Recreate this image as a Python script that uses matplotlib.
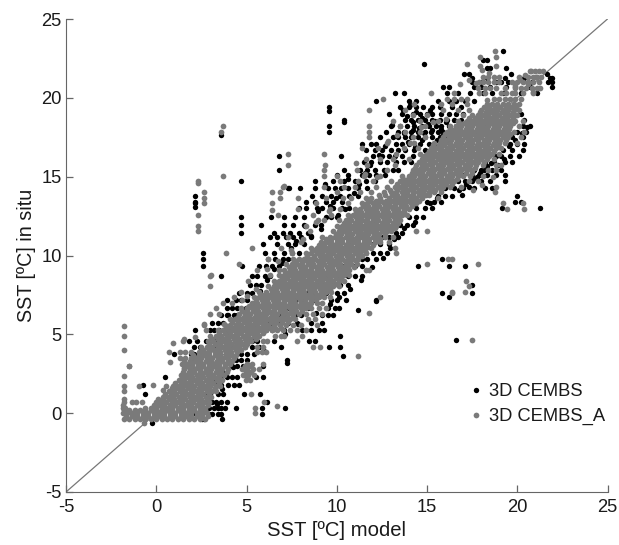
import matplotlib
matplotlib.use("Agg")
import matplotlib.pyplot as plt

plt.rcParams['font.family'] = ['Liberation Sans', 'DejaVu Sans']
plt.rcParams['axes.unicode_minus'] = False

# values, in situ SST -> model SST at that level
# grey series, dense band
cembs_a_rows = {
    -0.35: [-1.8, -1.5, -1.2, -0.9, -0.6, -0.3, 0.0, 0.3, 0.6, 0.9, 1.2, 1.5, 1.8, 2.1, 2.4, 2.7],
    0.0: [-1.85, -1.6, -1.35, -1.05, -0.75, -0.45, -0.15, 0.15, 0.45, 0.75, 1.05, 1.35, 1.65, 1.95, 2.25, 2.55, 2.8],
    0.35: [-1.85, -1.75, -0.6, -0.3, 0.0, 0.3, 0.6, 0.9, 1.2, 1.5, 1.8, 2.1, 2.4, 2.7],
    0.7: [-1.8, -1.35, -1.1, -0.8, 0.0, 0.25, 0.55, 0.85, 1.15, 1.45, 1.75, 2.05, 2.35, 2.65, 2.95],
    1.05: [0.35, 0.65, 0.95, 1.25, 1.55, 1.85, 2.15, 2.45, 2.75, 3.05],
    1.4: [0.7, 1.0, 1.3, 1.6, 1.9, 2.2, 2.5, 2.8, 3.1, 3.3],
    1.75: [0.55, 0.95, 1.2, 1.5, 1.8, 2.1, 2.4, 2.7, 3.0, 3.3, 3.55],
    2.1: [1.25, 1.55, 1.85, 2.15, 2.45, 2.75, 3.05, 3.35, 3.65, 4.95, 5.2],
    2.45: [1.35, 1.65, 1.95, 2.25, 2.55, 2.85, 3.15, 3.45, 3.75, 4.8, 5.1, 5.4],
    2.8: [1.55, 1.85, 2.15, 2.45, 2.75, 3.05, 3.35, 3.65, 3.95, 4.75, 5.05, 5.35, 5.7],
    3.15: [1.4, 1.7, 2.0, 2.3, 2.6, 2.9, 3.2, 3.5, 3.8, 4.1, 5.0, 5.3, 5.9],
    3.5: [1.3, 1.6, 1.9, 2.2, 2.5, 2.8, 3.1, 3.4, 3.7, 4.0, 4.3],
    3.85: [0.7, 1.3, 1.6, 1.9, 2.35, 2.65, 2.95, 3.25, 3.55, 3.85, 4.15, 4.45, 5.6, 5.85, 6.1],
    4.2: [2.5, 2.8, 3.1, 3.4, 3.7, 4.0, 4.3, 4.6, 4.9, 5.6, 5.9, 8.7],
    4.55: [1.5, 2.85, 3.15, 3.45, 3.75, 4.05, 4.35, 4.65, 4.95, 5.25, 5.9, 6.15, 7.8],
    4.9: [3.0, 3.3, 3.6, 3.9, 4.2, 4.5, 4.8, 5.1, 5.4, 5.7, 6.6, 6.9, 7.1, 8.1],
    5.25: [2.75, 3.4, 3.7, 4.0, 4.3, 4.6, 4.9, 5.2, 5.5, 5.8, 6.1, 6.4, 6.7, 7.0, 7.4, 7.8, 8.3],
    5.6: [2.65, 3.8, 4.1, 4.4, 4.7, 5.0, 5.3, 5.6, 5.9, 6.2, 6.5, 6.85, 7.2, 7.6, 8.0, 8.9],
    5.95: [4.1, 4.4, 4.7, 5.0, 5.3, 5.6, 5.9, 6.2, 6.5, 6.8, 7.1, 7.4, 7.7, 8.4, 8.8],
    6.3: [3.0, 3.5, 4.6, 4.9, 5.2, 5.5, 5.8, 6.1, 6.4, 6.7, 7.0, 7.3, 7.6, 7.9, 8.3, 8.7, 9.2],
    6.65: [3.3, 4.7, 5.0, 5.3, 5.6, 5.9, 6.2, 6.5, 6.8, 7.1, 7.4, 7.7, 8.0, 8.3, 8.6, 9.0, 9.4],
    7.0: [3.7, 4.2, 5.3, 5.6, 5.9, 6.2, 6.5, 6.8, 7.1, 7.4, 7.7, 8.0, 8.3, 8.6, 8.9, 9.2],
    7.35: [4.3, 5.4, 5.7, 6.0, 6.3, 6.6, 6.9, 7.2, 7.5, 7.8, 8.1, 8.4, 8.7, 9.0, 9.3, 9.6, 12.4],
    7.7: [4.7, 5.7, 6.1, 6.4, 6.7, 7.0, 7.3, 7.6, 7.9, 8.2, 8.5, 8.8, 9.1, 9.4, 9.7, 16.4, 17.12],
    8.05: [3.0, 6.2, 6.5, 6.8, 7.1, 7.4, 7.7, 8.0, 8.3, 8.6, 8.9, 9.2, 9.5, 9.8, 10.1, 17.35],
    8.4: [5.1, 6.5, 6.8, 7.1, 7.4, 7.7, 8.0, 8.3, 8.6, 8.9, 9.2, 9.5, 9.8, 10.1, 10.4, 17.17],
    8.75: [3.05, 6.3, 6.8, 7.1, 7.4, 7.7, 8.0, 8.3, 8.6, 8.9, 9.2, 9.5, 9.8, 10.1, 10.4, 10.7],
    9.1: [5.6, 6.8, 7.1, 7.4, 7.7, 8.0, 8.3, 8.6, 8.9, 9.2, 9.5, 9.8, 10.1, 10.4, 10.7, 11.6, 11.76],
    9.45: [4.58, 7.2, 7.5, 7.8, 8.1, 8.4, 8.7, 9.0, 9.3, 9.6, 9.9, 10.2, 10.5, 10.8, 11.1, 15.0, 17.85],
    9.8: [6.2, 7.6, 7.9, 8.2, 8.5, 8.8, 9.1, 9.4, 9.7, 10.0, 10.3, 10.6, 10.9, 11.2, 16.17, 16.4],
    10.15: [3.85, 7.5, 8.3, 8.6, 8.9, 9.2, 9.5, 9.8, 10.1, 10.4, 10.7, 11.0, 11.3, 11.6, 13.3],
    10.5: [6.9, 8.6, 8.9, 9.2, 9.5, 9.8, 10.1, 10.4, 10.7, 11.0, 11.3, 11.6, 11.9, 13.2],
    10.85: [8.0, 9.1, 9.4, 9.7, 10.0, 10.3, 10.6, 10.9, 11.2, 11.5, 11.8, 12.1, 12.4, 12.9],
    11.2: [7.3, 9.2, 9.6, 9.9, 10.2, 10.5, 10.8, 11.1, 11.4, 11.7, 12.0, 12.3, 12.7, 13.1],
    11.55: [2.3, 8.5, 9.8, 10.1, 10.4, 10.7, 11.0, 11.3, 11.6, 11.9, 12.2, 12.5, 12.8, 13.0, 14.4, 15.0],
    11.9: [2.3, 8.3, 10.0, 10.3, 10.6, 10.9, 11.2, 11.5, 11.8, 12.1, 12.4, 12.7, 13.0, 13.3],
    12.25: [8.98, 9.3, 10.1, 10.5, 10.8, 11.1, 11.4, 11.7, 12.0, 12.3, 12.6, 12.9, 13.2, 13.5],
    12.6: [2.3, 6.74, 8.66, 9.7, 10.6, 10.9, 11.2, 11.5, 11.8, 12.1, 12.4, 12.7, 13.0, 13.3, 13.6, 13.9],
    12.95: [7.88, 9.6, 10.2, 11.0, 11.3, 11.6, 11.9, 12.2, 12.5, 12.8, 13.1, 13.4, 13.7, 14.0, 19.42, 20.4],
    13.3: [2.65, 6.4, 8.84, 10.6, 11.4, 11.7, 12.0, 12.3, 12.6, 12.9, 13.2, 13.5, 13.8, 14.1, 14.4, 19.2, 20.3],
    13.65: [2.65, 6.87, 7.88, 9.4, 10.8, 11.6, 11.9, 12.4, 12.9, 13.2, 13.5, 13.8, 14.1, 14.4, 14.7, 15.6],
    14.0: [2.65, 6.41, 6.87, 10.0, 11.3, 11.9, 12.6, 13.0, 13.3, 13.6, 13.9, 14.2, 14.5, 14.8, 15.1, 15.4, 15.8, 18.75],
    14.35: [7.0, 9.3, 10.4, 11.0, 12.2, 12.8, 13.2, 13.5, 13.8, 14.1, 14.4, 14.7, 15.0, 15.3, 15.6, 15.9, 16.3, 16.9, 18.85],
    14.7: [2.3, 10.2, 11.2, 12.0, 13.0, 13.5, 13.8, 14.1, 14.4, 14.7, 15.0, 15.3, 15.6, 15.9, 16.2, 16.5, 17.3, 17.8],
    15.05: [3.7, 9.3, 10.0, 11.5, 12.4, 13.6, 14.0, 14.3, 14.6, 14.9, 15.2, 15.5, 15.8, 16.1, 16.4, 16.7, 17.0, 17.4, 18.1],
    15.4: [9.28, 11.1, 12.8, 14.2, 14.5, 14.8, 15.1, 15.4, 15.7, 16.0, 16.3, 16.6, 16.9, 17.2, 17.5, 18.4, 18.8],
    15.75: [7.3, 9.35, 11.7, 13.2, 14.4, 14.7, 15.0, 15.3, 15.6, 15.9, 16.2, 16.5, 16.8, 17.1, 17.4, 17.7, 18.1, 18.8, 19.1],
    16.1: [11.6, 12.4, 13.1, 14.0, 14.7, 15.0, 15.3, 15.6, 15.9, 16.2, 16.5, 16.8, 17.1, 17.4, 17.7, 18.0, 18.3, 18.7],
    16.45: [7.3, 9.29, 13.3, 14.6, 15.0, 15.3, 15.6, 15.9, 16.2, 16.5, 16.8, 17.1, 17.4, 17.7, 18.0, 18.3, 18.6, 19.0],
    16.8: [11.4, 12.3, 13.7, 14.5, 15.2, 15.5, 15.8, 16.1, 16.4, 16.7, 17.0, 17.3, 17.6, 17.9, 18.2, 18.5, 18.8, 19.1],
    17.15: [12.8, 14.3, 15.4, 15.7, 16.0, 16.3, 16.6, 16.9, 17.2, 17.5, 17.8, 18.1, 18.4, 18.7, 19.0, 19.3, 20.0],
    17.5: [11.8, 14.2, 14.9, 15.9, 16.2, 16.5, 16.8, 17.1, 17.4, 17.7, 18.0, 18.3, 18.6, 18.9, 19.2, 19.5, 20.2],
    17.85: [3.6, 11.78, 13.8, 14.6, 16.1, 16.4, 16.7, 17.0, 17.3, 17.6, 17.9, 18.2, 18.5, 18.8, 19.1, 19.4, 19.8, 20.4],
    18.2: [3.7, 11.78, 13.5, 14.9, 16.3, 16.6, 16.9, 17.2, 17.5, 17.8, 18.1, 18.4, 18.7, 19.0, 19.3, 19.6, 20.1],
    18.55: [13.1, 14.6, 15.6, 16.7, 17.2, 17.5, 17.8, 18.1, 18.4, 18.7, 19.0, 19.3, 19.6, 19.9, 20.3],
    18.9: [14.2, 15.0, 17.0, 17.5, 17.8, 18.1, 18.4, 18.7, 19.0, 19.3, 19.6, 19.9, 20.0],
    19.25: [11.76, 13.8, 15.9, 16.7, 17.3, 18.0, 18.3, 18.6, 18.9, 19.2, 19.5, 19.8, 20.1],
    19.6: [14.3, 15.8, 16.4, 17.2, 18.3, 18.6, 18.9, 19.2, 19.5, 19.8, 20.1],
    19.95: [12.54, 16.1, 16.5, 16.9, 17.2, 18.7, 19.0, 19.3, 19.6, 19.9, 20.2],
    20.3: [15.2, 16.5, 17.9, 18.2, 19.1, 19.4, 19.7, 19.9, 20.3, 20.9],
    20.65: [17.8, 18.2, 18.5, 18.8, 19.3, 19.9, 20.2, 20.5, 20.8, 21.1],
    21.0: [17.9, 18.1, 18.4, 18.7, 19.0, 19.7, 20.0, 20.3, 20.6, 20.9, 21.2],
    21.35: [18.1, 18.4, 18.7, 19.0, 20.1, 20.6, 20.9, 21.1, 21.3],
    21.7: [20.7, 21.0, 21.2, 21.4],
    22.0: [17.94, 18.83],
    22.6: [17.94, 18.83],
    22.97: [18.77],
    22.14: [17.22],
}

# grey series, the levels in between, core of the band only
cembs_a_mid_rows = {
    -0.18: [-1.7, -1.35, -1.05, -0.75, -0.45, -0.15, 0.15, 0.45, 0.75, 1.05, 1.35, 1.65, 1.95, 2.25, 2.55, 2.85],
    0.18: [-1.8, -1.5, -1.2, -0.9, -0.6, -0.3, 0.0, 0.3, 0.6, 0.9, 1.2, 1.5, 1.8, 2.1, 2.4, 2.7],
    0.52: [-1.85, -0.15, 0.15, 0.45, 0.75, 1.05, 1.35, 1.65, 1.95, 2.25, 2.55, 2.85],
    0.88: [-1.8, 0.1, 0.4, 0.7, 1.0, 1.3, 1.6, 1.9, 2.2, 2.5, 2.8],
    1.22: [0.5, 0.8, 1.1, 1.4, 1.7, 2.0, 2.3, 2.6, 2.9],
    1.58: [0.85, 1.15, 1.45, 1.75, 2.05, 2.35, 2.65, 2.95, 3.25],
    1.92: [1.05, 1.35, 1.65, 1.95, 2.25, 2.55, 2.85, 3.15, 3.45],
    2.28: [1.4, 1.7, 2.0, 2.3, 2.6, 2.9, 3.2, 3.5, 5.0],
    2.62: [1.5, 1.8, 2.1, 2.4, 2.7, 3.0, 3.3, 3.6, 3.9, 4.95, 5.25],
    2.98: [1.7, 2.0, 2.3, 2.6, 2.9, 3.2, 3.5, 3.8, 4.9, 5.2],
    3.32: [1.55, 1.85, 2.15, 2.45, 2.75, 3.05, 3.35, 3.65, 3.95, 4.2],
    3.68: [2.05, 2.35, 2.65, 2.95, 3.25, 3.55, 3.85, 4.15, 4.4],
    4.02: [2.6, 2.9, 3.2, 3.5, 3.8, 4.1, 4.4, 4.7],
    4.38: [2.95, 3.25, 3.55, 3.85, 4.15, 4.45, 4.75, 5.05],
    4.72: [3.1, 3.4, 3.7, 4.0, 4.3, 4.6, 4.9, 5.2, 5.5],
    5.08: [3.5, 3.8, 4.1, 4.4, 4.7, 5.0, 5.3, 5.6, 5.9],
    5.42: [3.9, 4.2, 4.5, 4.8, 5.1, 5.4, 5.7, 6.0, 6.3, 6.6, 6.9],
    5.78: [4.2, 4.55, 4.85, 5.15, 5.45, 5.75, 6.05, 6.35, 6.65, 6.95, 7.3],
    6.12: [4.55, 4.85, 5.15, 5.45, 5.75, 6.05, 6.35, 6.65, 6.95, 7.25, 7.55],
    6.48: [4.75, 5.05, 5.35, 5.65, 5.95, 6.25, 6.55, 6.85, 7.15, 7.45, 7.75, 8.05],
    6.82: [5.15, 5.45, 5.75, 6.05, 6.35, 6.65, 6.95, 7.25, 7.55, 7.85, 8.15, 8.45],
    7.18: [5.55, 5.85, 6.15, 6.45, 6.75, 7.05, 7.35, 7.65, 7.95, 8.25, 8.55, 8.85],
    7.52: [5.85, 6.2, 6.5, 6.8, 7.1, 7.4, 7.7, 8.0, 8.3, 8.6, 8.9, 9.2],
    7.88: [6.35, 6.65, 6.95, 7.25, 7.55, 7.85, 8.15, 8.45, 8.75, 9.05, 9.35, 9.65],
    8.22: [6.65, 6.95, 7.25, 7.55, 7.85, 8.15, 8.45, 8.75, 9.05, 9.35, 9.65, 9.95],
    8.58: [6.95, 7.25, 7.55, 7.85, 8.15, 8.45, 8.75, 9.05, 9.35, 9.65, 9.95, 10.25],
    8.92: [7.25, 7.55, 7.85, 8.15, 8.45, 8.75, 9.05, 9.35, 9.65, 9.95, 10.25, 10.55],
    9.28: [7.35, 7.65, 7.95, 8.25, 8.55, 8.85, 9.15, 9.45, 9.75, 10.05, 10.35, 10.65, 10.95],
    9.62: [7.75, 8.05, 8.35, 8.65, 8.95, 9.25, 9.55, 9.85, 10.15, 10.45, 10.75, 11.05],
    9.98: [8.35, 8.75, 9.05, 9.35, 9.65, 9.95, 10.25, 10.55, 10.85, 11.15, 11.4],
    10.32: [8.75, 9.05, 9.35, 9.65, 9.95, 10.25, 10.55, 10.85, 11.15, 11.45],
    10.68: [9.0, 9.3, 9.6, 9.9, 10.2, 10.5, 10.8, 11.1, 11.4, 11.7, 12.0],
    11.02: [9.4, 9.7, 10.0, 10.3, 10.6, 10.9, 11.2, 11.5, 11.8, 12.1, 12.4],
    11.38: [9.95, 10.25, 10.55, 10.85, 11.15, 11.45, 11.75, 12.05, 12.35, 12.65],
    11.72: [10.2, 10.5, 10.8, 11.1, 11.4, 11.7, 12.0, 12.3, 12.6, 12.9, 13.2],
    12.08: [10.4, 10.7, 11.0, 11.3, 11.6, 11.9, 12.2, 12.5, 12.8, 13.1, 13.4],
    12.42: [10.75, 11.05, 11.35, 11.65, 11.95, 12.25, 12.55, 12.85, 13.15, 13.45],
    12.78: [11.05, 11.35, 11.65, 11.95, 12.25, 12.55, 12.85, 13.15, 13.45, 13.75],
    13.12: [11.45, 11.75, 12.05, 12.35, 12.65, 12.95, 13.25, 13.55, 13.85, 14.15],
    13.48: [11.85, 12.15, 12.45, 12.75, 13.05, 13.35, 13.65, 13.95, 14.25, 14.55],
    13.82: [12.35, 12.65, 13.05, 13.35, 13.65, 13.95, 14.25, 14.55, 14.85, 15.1],
    14.18: [12.95, 13.35, 13.65, 13.95, 14.25, 14.55, 14.85, 15.15, 15.45, 15.75],
    14.52: [13.35, 13.65, 13.95, 14.25, 14.55, 14.85, 15.15, 15.45, 15.75, 16.05, 16.4],
    14.88: [13.65, 13.95, 14.25, 14.55, 14.85, 15.15, 15.45, 15.75, 16.05, 16.35, 16.65],
    15.22: [14.15, 14.45, 14.75, 15.05, 15.35, 15.65, 15.95, 16.25, 16.55, 16.85, 17.15, 17.5],
    15.58: [14.35, 14.65, 14.95, 15.25, 15.55, 15.85, 16.15, 16.45, 16.75, 17.05, 17.35, 17.65],
    15.92: [14.55, 14.85, 15.15, 15.45, 15.75, 16.05, 16.35, 16.65, 16.95, 17.25, 17.55, 17.85, 18.15],
    16.28: [14.85, 15.15, 15.45, 15.75, 16.05, 16.35, 16.65, 16.95, 17.25, 17.55, 17.85, 18.15, 18.45],
    16.62: [15.1, 15.4, 15.7, 16.0, 16.3, 16.6, 16.9, 17.2, 17.5, 17.8, 18.1, 18.4, 18.7],
    16.98: [15.35, 15.65, 15.95, 16.25, 16.55, 16.85, 17.15, 17.45, 17.75, 18.05, 18.35, 18.65, 18.95],
    17.32: [15.75, 16.05, 16.35, 16.65, 16.95, 17.25, 17.55, 17.85, 18.15, 18.45, 18.75, 19.05, 19.35],
    17.68: [16.0, 16.3, 16.6, 16.9, 17.2, 17.5, 17.8, 18.1, 18.4, 18.7, 19.0, 19.3, 19.6],
    18.02: [16.25, 16.55, 16.85, 17.15, 17.45, 17.75, 18.05, 18.35, 18.65, 18.95, 19.25, 19.55],
    18.38: [16.75, 17.05, 17.35, 17.65, 17.95, 18.25, 18.55, 18.85, 19.15, 19.45, 19.75],
    18.72: [17.35, 17.65, 17.95, 18.25, 18.55, 18.85, 19.15, 19.45, 19.75],
    19.08: [17.95, 18.25, 18.55, 18.85, 19.15, 19.45, 19.75],
    19.42: [18.15, 18.45, 18.75, 19.05, 19.35, 19.65, 19.95],
}

# grey series, isolated points and patches off the band
cembs_a_x = [-1.8, -1.8, -1.8, -1.5, -1.8, -1.8, -1.8, -0.97, -0.19, -0.67, 0.92, 0.75, 1.56, 2.63,
             5.25, 5.49, 5.49, 6.71, 5.95, 9.09, 2.3, 3.0, 17.5, 11.2, 11.76, 16.4, 7.1, 6.4, 5.3, 5.0,
             16.85, 17.3, 17.7, 18.3, 20.45, 20.75, 21.05, 20.6, 21.25, 20.85, 19.85, 20.15, 18.45, 18.05,
             12.85, 13.35, 14.05, 14.65, 15.35, 16.05, 11.05, 11.55, 12.25, 10.35, 9.55, 8.85, 8.15, 7.45,
             6.75, 6.15, 5.55, 4.75, 4.35, 3.75, 2.15, 1.55, 0.35, 13.65, 14.95, 15.75, 17.55, 18.05, 18.65]
cembs_a_y = [5.53, 4.89, 4.03, 2.99, 2.33, 1.72, 1.4, 1.72, 1.8, -0.65, 4.47, 3.26, 4.72, 5.63,
             1.19, 0.34, -0.02, 0.43, 0.7, 4.17, 14.63, 8.7, 4.62, 3.62, 6.33, 7.64, 14.4, 12.9, 10.5, 7.4,
             20.85, 21.1, 20.95, 19.85, 21.45, 21.7, 21.3, 20.9, 20.6, 20.35, 20.75, 21.15, 21.6, 21.75,
             17.25, 17.65, 17.15, 18.15, 18.45, 18.65, 15.85, 15.15, 14.95, 13.65, 12.85, 12.15, 11.05, 10.35,
             9.65, 9.15, 7.85, 7.15, 5.95, 5.65, 4.85, 2.85, 1.45, 13.25, 13.85, 14.25, 14.15, 14.45, 14.95]

# black series, fringe around the band
cembs_rows = {
    -0.65: [-0.23],
    -0.4: [2.55, 2.65, 3.65],
    -0.05: [2.2, 2.9, 3.1, 3.4, 3.6, 5.86],
    0.3: [2.9, 3.2, 3.4, 3.6, 3.8, 4.44, 5.86, 7.15],
    0.7: [2.8, 3.1, 3.3, 3.6, 3.9, 6.14],
    1.2: [-0.6, 2.7, 3.0, 3.4, 3.7, 4.88, 5.77],
    1.8: [-0.75, 3.3, 3.6, 4.0, 4.3, 4.6],
    2.3: [0.5, 3.6, 3.9, 4.2, 4.5, 5.5, 5.9],
    3.0: [-1.52, 2.0, 4.2, 4.5, 4.8, 5.9],
    3.4: [1.9, 4.4, 4.7, 5.0, 7.24],
    3.77: [0.97, 1.9, 2.1, 4.7, 5.0, 5.4],
    4.2: [2.1, 2.4, 4.9, 5.3, 5.7, 6.9, 9.55],
    4.6: [1.84, 2.26, 2.76, 3.0, 3.2, 5.3, 5.6, 8.44, 8.8],
    5.25: [2.13, 3.0, 3.2, 3.5, 3.8, 6.1, 6.4, 7.1, 8.1, 8.6, 9.0, 9.3],
    5.7: [3.1, 3.4, 3.7, 6.3, 6.6, 6.9, 7.3, 7.8, 8.6, 9.2],
    6.2: [3.6, 3.9, 4.0, 4.3, 4.5, 6.9, 7.2, 7.7, 8.0, 9.2, 9.5, 9.8],
    6.7: [3.9, 4.2, 4.5, 7.3, 7.7, 8.4, 9.5, 9.9, 10.1],
    7.2: [3.9, 4.4, 4.7, 5.0, 7.7, 8.0, 8.7, 9.7, 10.0, 10.5, 12.2],
    7.65: [4.6, 5.0, 5.3, 8.3, 8.8, 9.4, 10.0, 10.4, 15.84, 17.48],
    8.1: [5.2, 5.5, 5.8, 8.9, 9.2, 9.8, 10.2, 10.6, 17.48],
    8.7: [3.57, 5.3, 5.6, 6.0, 6.3, 9.5, 10.2, 10.6, 11.0, 11.4],
    9.36: [4.77, 2.57, 5.7, 6.1, 6.4, 6.8, 10.3, 11.0, 11.4, 14.5, 16.22, 17.1],
    9.8: [2.57, 6.2, 6.6, 7.0, 7.3, 11.4, 11.7, 12.2, 15.84],
    10.18: [2.57, 6.0, 6.5, 7.1, 7.5, 7.9, 11.6, 12.0, 12.4, 12.8],
    10.7: [5.9, 6.7, 7.3, 7.7, 8.2, 12.0, 12.4, 12.9],
    11.2: [6.3, 6.7, 7.2, 7.6, 8.0, 8.6, 12.5, 12.9, 13.2, 13.4],
    11.45: [4.68, 6.5, 7.0, 7.4, 7.9, 8.4, 13.3, 13.6],
    11.92: [4.68, 5.8, 7.06, 7.6, 8.2, 8.8, 9.1, 13.5, 13.9, 14.2],
    12.45: [4.68, 6.36, 7.06, 7.7, 8.2, 9.4, 9.7, 10.0, 14.0, 14.4, 14.8],
    13.0: [7.9, 8.3, 8.9, 9.2, 9.8, 10.3, 10.7, 14.4, 14.9, 15.3, 19.14, 21.26],
    13.4: [2.13, 8.3, 8.8, 9.4, 9.8, 10.3, 15.0, 15.4, 15.8, 19.88, 20.2],
    13.8: [2.13, 8.63, 9.2, 9.7, 10.2, 10.7, 11.2, 15.6, 16.0, 16.4, 20.0],
    14.3: [7.35, 7.98, 8.81, 9.5, 9.9, 10.6, 11.2, 11.7, 16.0, 16.5, 17.0, 17.6, 18.2, 18.6],
    14.7: [4.68, 8.81, 9.8, 10.4, 11.0, 11.6, 12.1, 16.7, 17.1, 17.5, 18.0, 18.5, 19.33],
    15.1: [10.0, 10.6, 11.4, 11.8, 12.2, 12.7, 17.0, 17.5, 17.9, 18.3, 18.8, 19.33],
    15.45: [6.78, 10.38, 11.3, 11.7, 12.1, 12.6, 13.1, 13.4, 17.6, 18.0, 18.6, 19.1],
    15.9: [11.5, 11.9, 12.4, 12.8, 13.3, 13.7, 14.1, 18.2, 18.7, 19.3, 19.7],
    16.28: [6.78, 10.25, 12.0, 12.5, 12.9, 13.2, 13.6, 14.2, 18.8, 19.1, 19.6, 20.1],
    16.7: [11.6, 12.1, 12.5, 13.0, 13.4, 13.8, 14.3, 14.9, 19.2, 19.7, 20.3],
    17.1: [11.4, 11.9, 12.2, 13.3, 13.6, 14.0, 14.6, 15.1, 15.4, 19.6, 20.0, 20.4],
    17.5: [12.4, 13.1, 13.4, 13.8, 14.1, 14.5, 14.9, 15.3, 15.7, 16.0, 19.7, 20.3],
    17.85: [9.55, 13.4, 13.7, 14.1, 14.5, 14.9, 15.2, 15.6, 15.9, 16.3, 20.0, 20.5],
    18.2: [9.55, 13.0, 13.5, 13.9, 14.3, 14.7, 15.1, 15.5, 15.8, 16.2, 16.6, 20.3, 20.7],
    18.6: [10.38, 13.8, 14.1, 14.5, 14.9, 15.3, 15.7, 16.1, 16.5, 16.9, 20.4],
    19.0: [12.9, 13.6, 14.2, 14.6, 15.0, 15.3, 15.8, 16.2, 16.6, 17.0, 20.2],
    19.4: [9.55, 13.5, 14.0, 14.4, 14.8, 15.3, 15.7, 16.4, 16.9],
    19.8: [12.15, 14.0, 14.4, 15.6, 16.2, 16.6, 17.1, 17.6],
    20.3: [13.2, 13.7, 16.1, 16.7, 17.4, 18.1, 18.6, 19.2, 20.2, 21.1],
    20.7: [15.9, 16.2, 17.6, 18.0, 18.5, 19.4, 19.9, 20.7, 21.93],
    21.0: [17.5, 18.0, 18.8, 19.1, 19.5, 20.8, 21.72, 21.95],
    21.25: [17.48, 18.3, 19.3, 20.4, 21.82, 21.9],
    21.5: [17.07, 17.3, 19.66, 21.63],
    21.9: [18.3, 18.5, 19.38],
    22.4: [18.1, 18.3],
    22.97: [19.23],
    22.14: [14.82],
}

# black series, isolated points and the clumps beside the band
cembs_x = [2.13, 2.13, 3.59, 10.2, 10.2, 10.33, 11.2, 12.2, 16.63, 16.22, 9.55, 10.38, 7.3, 7.24,
           13.65, 13.9, 14.05, 14.25, 14.4, 14.55, 14.7, 14.85, 15.05, 15.15, 15.3, 15.45, 15.55, 15.75,
           15.9, 16.05, 16.15, 16.35, 13.7, 13.95, 14.2, 14.35, 14.75, 14.95, 12.75, 13.05, 12.35, 12.65,
           11.55, 11.85, 11.25, 10.95, 10.65, 10.25, 9.95, 9.65, 9.35, 8.95, 10.05, 10.45, 9.15, 8.55,
           8.25, 7.75, 7.45, 6.95, 6.55, 6.15, 5.75, 5.35, 4.95, 4.55, 4.15, 3.85, 3.55, 3.25,
           16.75, 17.15, 17.55, 17.95, 18.35, 16.95, 17.35, 17.75, 18.15, 18.55, 15.15, 15.55, 14.35,
           13.75, 13.15, 12.95, 12.55, 11.95, 11.35, 10.75, 10.15, 9.65, 8.85, 7.85, 7.15, 6.55, 5.95,
           4.25, 3.75, 3.25, 2.95, 3.35, 3.65, 19.55, 19.85, 20.25, 20.55, 19.25, 18.95]
cembs_y = [13.35, 13.09, 17.63, 4.9, 4.2, 3.62, 6.52, 7.13, 4.62, 7.34, 19.15, 18.44, 14.26, 3.2,
           19.2, 18.85, 19.55, 18.45, 19.1, 18.1, 18.7, 17.75, 18.35, 19.25, 17.95, 18.55, 17.35, 18.05,
           17.65, 18.45, 17.2, 17.85, 17.75, 17.2, 17.95, 16.85, 17.3, 16.65, 17.85, 18.25, 16.35, 16.95,
           15.25, 15.75, 14.55, 13.95, 14.85, 14.25, 13.65, 13.15, 14.55, 12.85, 12.55, 12.95, 11.65, 11.25,
           11.85, 10.95, 10.45, 9.55, 9.15, 8.45, 7.75, 6.95, 6.65, 5.95, 5.45, 5.05, 4.85, 4.35,
           14.15, 14.55, 14.85, 15.25, 15.65, 13.85, 14.35, 14.95, 15.45, 15.85, 13.35, 13.65, 12.15,
           11.75, 11.05, 10.45, 9.85, 9.25, 8.45, 7.85, 7.35, 6.95, 6.35, 5.65, 5.05, 4.55, 3.95,
           2.95, 2.55, 1.95, 0.95, 0.55, 1.55, 16.95, 17.35, 17.75, 18.15, 16.15, 15.75]

xticks = [-5, 0, 5, 10, 15, 20, 25]
yticks = [-5, 0, 5, 10, 15, 20, 25]


def flatten(rows):
    xs = [x for y in rows for x in rows[y]]
    ys = [y for y in rows for x in rows[y]]
    return xs, ys


fig = plt.figure(figsize=(6.19, 5.45), dpi=100)
ax = fig.add_axes([66 / 619, 53 / 545, 541.5 / 619, 473 / 545])

ax.plot([-5, 25], [-5, 25], color='#777777', lw=0.9, zorder=1)

x1, y1 = flatten(cembs_rows)
x2, y2 = flatten(cembs_a_rows)
x3, y3 = flatten(cembs_a_mid_rows)
ax.scatter(x1 + cembs_x, y1 + cembs_y, s=15, color='black', linewidths=0, zorder=2, label='3D CEMBS')
ax.scatter(x2 + x3 + cembs_a_x, y2 + y3 + cembs_a_y, s=17, color='#7a7a7a', linewidths=0,
           zorder=3, label='3D CEMBS_A')

ax.set_xlim(-5, 25)
ax.set_ylim(-5, 25)
ax.set_xticks(xticks)
ax.set_yticks(yticks)
ax.tick_params(direction='in', length=5, width=0.9, color='#666666',
               labelsize=13.2, labelcolor='#1a1a1a')
ax.tick_params(axis='x', pad=5)
ax.tick_params(axis='y', pad=3)
ax.spines['top'].set_visible(False)
ax.spines['right'].set_visible(False)
ax.spines['left'].set_color('#666666')
ax.spines['bottom'].set_color('#666666')
ax.set_xlabel('SST [ºC] model', fontsize=14.6, color='#1a1a1a', labelpad=4)
ax.set_ylabel('SST [ºC] in situ', fontsize=14.2, color='#1a1a1a', labelpad=4)

ax.legend(loc='lower right', bbox_to_anchor=(1.013, 0.122), frameon=False, fontsize=13.2,
          handlelength=1.4, handletextpad=0.0, labelspacing=0.42, borderpad=0,
          scatteryoffsets=[0.5], labelcolor='#1a1a1a')

fig.savefig('out.png', dpi=100)
